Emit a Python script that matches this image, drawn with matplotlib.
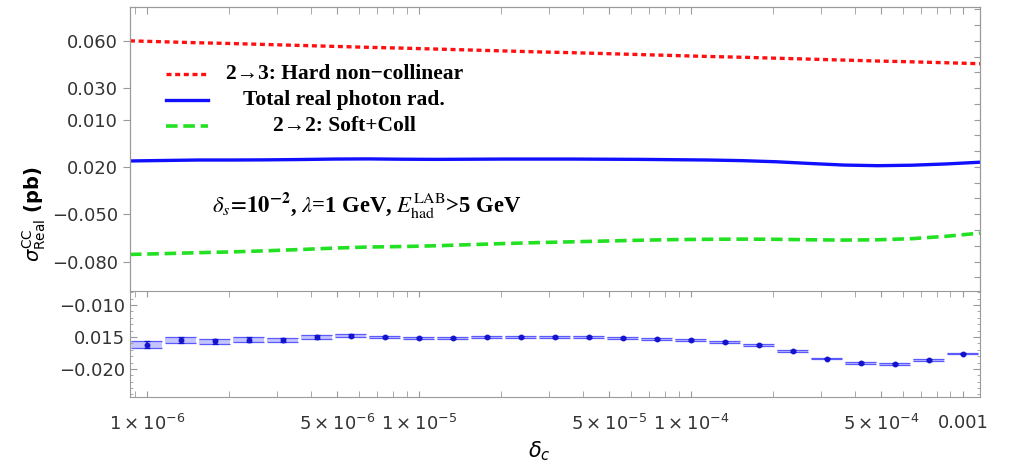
import numpy as np
import matplotlib
matplotlib.use('Agg')
import matplotlib.pyplot as plt
from matplotlib.ticker import FixedLocator, NullFormatter, MultipleLocator

plt.rcParams['mathtext.fontset'] = 'dejavusans'

# ---- data ----
# bin centres (8 per decade) and bin edges in log10(delta_c)
log_centres = -6 + np.arange(25) / 8.0
log_edges = -6.0625 + np.arange(26) / 8.0

# top panel curves, sampled at the bin edges
hard_23 = [0.0600, 0.0594, 0.0588, 0.0583, 0.0577, 0.0571, 0.0565, 0.0559, 0.0554,
           0.0548, 0.0542, 0.0536, 0.0530, 0.0525, 0.0519, 0.0513, 0.0507, 0.0501,
           0.0496, 0.0490, 0.0484, 0.0478, 0.0472, 0.0467, 0.0461, 0.0455]
total_real = [-0.0162, -0.0159, -0.0156, -0.0156, -0.0155, -0.0153, -0.0150, -0.0149,
              -0.0151, -0.0152, -0.0151, -0.0150, -0.0150, -0.0150, -0.0151, -0.0152,
              -0.0154, -0.0156, -0.0160, -0.0167, -0.0178, -0.0188, -0.0192, -0.0189,
              -0.0181, -0.0170]
soft_22 = [-0.0755, -0.0750, -0.0744, -0.0739, -0.0732, -0.0724, -0.0715, -0.0708,
           -0.0705, -0.0700, -0.0693, -0.0686, -0.0680, -0.0675, -0.0670, -0.0665,
           -0.0661, -0.0659, -0.0658, -0.0659, -0.0662, -0.0664, -0.0662, -0.0655,
           -0.0640, -0.0620]
curve_labels = ['2\u21923: Hard non\u2212collinear', 'Total real photon rad.',
                '2\u21922: Soft+Coll']

# bottom panel: Monte Carlo total with errors
mc_total = [-0.0162, -0.0155, -0.0157, -0.0154, -0.0155, -0.0150, -0.0148, -0.0150,
            -0.0152, -0.0152, -0.0150, -0.0150, -0.0150, -0.0150, -0.0152, -0.0153,
            -0.0155, -0.0158, -0.0163, -0.0172, -0.0184, -0.0191, -0.0192, -0.0186,
            -0.0176]
mc_err = [0.0005, 0.00042, 0.00035, 0.00035, 0.00033, 0.00027, 0.00025, 0.0002,
          0.00018, 0.00017, 0.00016, 0.00015, 0.00015, 0.00014, 0.00014, 0.00014,
          0.00014, 0.00014, 0.00013, 0.00012, 0.00012, 0.00012, 0.00012, 0.00012,
          0.00012]

top_ticks = [0.06, 0.03, 0.01, -0.02, -0.05, -0.08]
top_labels = ['0.060', '0.030', '0.010', '0.020', '\u22120.050', '\u22120.080']
bot_ticks = [-0.010, -0.015, -0.020]
bot_labels = ['\u22120.010', '0.015', '\u22120.020']
x_ticks = [1e-6, 5e-6, 1e-5, 5e-5, 1e-4, 5e-4, 1e-3]
x_labels = [r'$1\times10^{-6}$', r'$5\times10^{-6}$', r'$1\times10^{-5}$',
            r'$5\times10^{-5}$', r'$1\times10^{-4}$', r'$5\times10^{-4}$', '0.001']

x_c = 10 ** log_centres
x_e = 10 ** log_edges
xlim = (x_e[0], x_e[-1])

frame = '#9a9a9a'
tcol = '#333333'

fig = plt.figure(figsize=(10.09, 4.67), dpi=100)
ax = fig.add_axes([0.1288, 0.3769, 0.8424, 0.6075])
axb = fig.add_axes([0.1288, 0.1499, 0.8424, 0.2270])

# ---- top panel ----
l1, = ax.plot(x_e, hard_23, color='#ff1010', lw=2.4, ls=(0, (1.5, 1.1)))
l2, = ax.plot(x_e, total_real, color='#1010ff', lw=2.4)
l3, = ax.plot(x_e, soft_22, color='#22e022', lw=2.6, ls=(0, (3.2, 1.6)))
ax.set_xscale('log')
ax.set_xlim(xlim)
ax.set_ylim(-0.0987, 0.0813)
ax.set_yticks(top_ticks)
ax.set_yticklabels(top_labels)
ax.xaxis.set_major_locator(FixedLocator(x_ticks))
ax.tick_params(axis='x', which='both', top=True, bottom=False, labelbottom=False,
               direction='in', length=5, color=frame)
ax.tick_params(axis='y', direction='out', length=5, color=frame, labelsize=13,
               labelcolor=tcol, right=False)
ax.xaxis.set_minor_formatter(NullFormatter())
twin = ax.twinx()
twin.set_ylim(ax.get_ylim())
twin.yaxis.set_major_locator(MultipleLocator(0.01))
twin.tick_params(axis='y', direction='in', length=4, color=frame, labelright=False)
for a in (ax, twin):
    for s in a.spines.values():
        s.set_color(frame)
ax.spines['bottom'].set_visible(False)
twin.spines['bottom'].set_visible(False)

# legend: handles from the legend, labels centred as in the original
ax.legend([l1, l2, l3], ['', '', ''], loc='upper left',
          bbox_to_anchor=(0.022, 0.855), frameon=False, handlelength=2.15,
          handletextpad=0.0, labelspacing=0.36, fontsize=14)
for lab, yy in zip(curve_labels, [0.765, 0.672, 0.580]):
    ax.text(0.252, yy, lab, transform=ax.transAxes, ha='center', va='center',
            family='Liberation Serif', weight='bold', fontsize=15.5)

ax.text(0.097, 0.302,
        r'$\delta_s\!=\!\mathbf{10^{-2}}$, $\lambda$=1 GeV, $E^{\rm LAB}_{\rm had}$>5 GeV',
        transform=ax.transAxes, fontsize=16.3, family='Liberation Serif',
        weight='bold', va='center', math_fontfamily='stix')

ax.set_ylabel(r'$\sigma^{\rm CC}_{\rm Real}$ (pb)', fontsize=14, weight='bold')
ax.yaxis.set_label_coords(-0.097, 0.27)

# ---- bottom panel ----
for xc, y, e in zip(x_c, mc_total, mc_err):
    lo, hi = xc * 10 ** -0.057, xc * 10 ** 0.057
    axb.fill_between([lo, hi], y - e, y + e, color='#c4c4ff', lw=0)
    axb.hlines([y - e, y + e], lo, hi, color='#5a5aff', lw=0.9)
axb.errorbar(x_c, mc_total, yerr=mc_err, fmt='o', color='#1414cc', ms=3.2,
             elinewidth=1.1, capsize=2.5, capthick=0.9)
axb.set_xscale('log')
axb.set_xlim(xlim)
axb.set_ylim(-0.0244, -0.0078)
axb.set_yticks(bot_ticks)
axb.set_yticklabels(bot_labels)
axb.yaxis.set_minor_locator(MultipleLocator(0.001))
axb.xaxis.set_major_locator(FixedLocator(x_ticks))
axb.set_xticklabels(x_labels)
axb.xaxis.set_minor_formatter(NullFormatter())
axb.tick_params(axis='x', which='both', top=True, direction='in', length=4,
                color=frame, labelsize=13, labelcolor=tcol, pad=12)
axb.tick_params(axis='y', which='both', right=True, direction='in', color=frame,
                labelsize=13, labelcolor=tcol)
axb.tick_params(axis='y', which='major', length=5)
axb.tick_params(axis='y', which='minor', length=2.5)
for s in axb.spines.values():
    s.set_color(frame)

axb.set_xlabel(r'$\delta_c$', fontsize=15)
axb.xaxis.set_label_coords(0.482, -0.40)

fig.savefig('out.png', dpi=100)
